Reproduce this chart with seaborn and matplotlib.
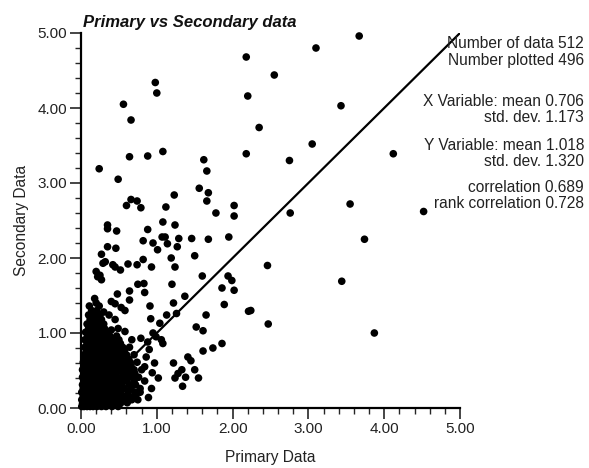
import matplotlib
matplotlib.use('Agg')
import matplotlib.pyplot as plt
import pandas as pd
import seaborn as sns
from matplotlib.ticker import MultipleLocator, FormatStrFormatter

# Sparse points above the cluster (primary, secondary)
upper_points = [
    (3.67, 4.96), (3.10, 4.80), (2.18, 4.68), (2.55, 4.44), (0.98, 4.34),
    (1.00, 4.20), (2.20, 4.16), (0.56, 4.05), (3.43, 4.03), (0.66, 3.84),
    (2.35, 3.74), (3.05, 3.52), (1.08, 3.42), (0.64, 3.35), (0.88, 3.36),
    (2.18, 3.39), (2.75, 3.30), (0.24, 3.19), (1.62, 3.31), (1.66, 3.16),
    (0.49, 3.05), (1.56, 2.93), (1.68, 2.87), (1.23, 2.84), (1.66, 2.76),
    (0.66, 2.78), (0.74, 2.76), (0.60, 2.70), (0.79, 2.67), (1.12, 2.68),
    (2.02, 2.70), (1.78, 2.60), (2.02, 2.56), (2.76, 2.60), (3.55, 2.72),
    (4.12, 3.39), (4.52, 2.62), (3.74, 2.25),
]

middle_points = [
    (0.35, 2.44), (0.35, 2.39), (0.47, 2.36), (0.88, 2.38), (1.08, 2.48),
    (1.24, 2.44), (0.82, 2.23), (0.95, 2.20), (1.07, 2.28), (1.11, 2.28),
    (1.14, 2.19), (1.29, 2.26), (1.46, 2.26), (1.68, 2.25), (1.95, 2.28),
    (1.01, 2.11), (1.27, 2.15), (0.35, 2.15), (0.46, 2.13), (0.27, 2.05),
    (0.82, 1.98), (1.19, 2.00), (1.50, 2.03), (0.29, 1.93), (0.32, 1.95),
    (0.42, 1.91), (0.45, 1.88), (0.52, 1.84), (0.62, 1.92), (0.74, 1.91),
    (0.93, 1.88), (1.24, 1.88), (0.20, 1.82), (0.25, 1.77), (0.22, 1.75),
    (0.27, 1.71), (0.75, 1.65), (0.83, 1.66), (1.20, 1.65), (1.60, 1.76),
    (0.64, 1.56), (0.84, 1.54), (0.48, 1.52), (1.37, 1.49), (0.18, 1.46),
    (0.20, 1.40), (0.40, 1.42), (0.45, 1.39), (0.64, 1.44), (0.91, 1.36),
    (1.22, 1.40), (0.53, 1.34), (0.58, 1.30), (0.30, 1.28), (0.37, 1.24),
    (1.13, 1.24), (1.26, 1.26), (1.65, 1.24), (0.92, 1.19), (1.04, 1.13),
    (1.52, 1.08), (1.61, 1.03), (0.40, 1.04), (0.58, 1.02), (0.79, 0.93),
    (0.67, 0.91), (0.95, 1.00), (0.99, 0.95), (1.06, 0.91), (1.08, 0.86),
]

right_points = [
    (2.46, 1.90), (3.44, 1.69), (2.24, 1.30), (2.47, 1.12), (3.87, 1.00),
    (1.94, 1.76), (1.99, 1.70), (1.86, 1.60), (2.02, 1.57), (1.89, 1.38),
    (2.21, 1.29), (1.74, 0.80), (1.86, 0.86), (1.61, 0.76), (0.86, 0.68),
    (1.22, 0.60), (1.41, 0.68), (1.45, 0.63), (1.50, 0.51), (1.55, 0.40),
    (1.33, 0.51), (1.28, 0.46), (1.24, 0.40), (1.38, 0.41), (1.34, 0.29),
    (0.80, 0.51), (1.02, 0.40), (0.93, 0.26), (0.89, 0.14), (0.75, 0.11),
    (0.61, 0.07), (0.84, 0.55), (0.90, 0.78), (0.97, 0.60), (0.84, 0.36),
    (0.78, 0.21), (0.94, 0.47), (0.88, 0.88),
]

# Dense cluster near the origin, one row per secondary value
cluster_bottom = [
    (0.02, [0.01, 0.04, 0.08, 0.12, 0.16, 0.21, 0.27, 0.33, 0.41, 0.49]),
    (0.06, [0.02, 0.06, 0.10, 0.15, 0.19, 0.24, 0.30, 0.38, 0.45, 0.52]),
    (0.11, [0.01, 0.05, 0.09, 0.13, 0.18, 0.23, 0.28, 0.35, 0.42, 0.50, 0.58, 0.67]),
    (0.16, [0.03, 0.07, 0.11, 0.16, 0.20, 0.26, 0.32, 0.39, 0.47, 0.55, 0.63, 0.72]),
    (0.21, [0.01, 0.05, 0.09, 0.14, 0.19, 0.24, 0.30, 0.37, 0.44, 0.52, 0.62, 0.71]),
    (0.26, [0.03, 0.08, 0.12, 0.17, 0.22, 0.28, 0.34, 0.41, 0.49, 0.57, 0.66, 0.78]),
    (0.31, [0.02, 0.06, 0.10, 0.15, 0.21, 0.26, 0.32, 0.39, 0.46, 0.54, 0.64, 0.72]),
    (0.36, [0.04, 0.08, 0.13, 0.18, 0.24, 0.30, 0.36, 0.43, 0.51, 0.60, 0.70]),
    (0.41, [0.02, 0.06, 0.11, 0.16, 0.22, 0.28, 0.35, 0.41, 0.48, 0.57, 0.67, 0.76]),
    (0.46, [0.04, 0.09, 0.14, 0.20, 0.26, 0.33, 0.39, 0.46, 0.55, 0.63, 0.71]),
]

cluster_middle = [
    (0.51, [0.02, 0.07, 0.12, 0.18, 0.24, 0.30, 0.37, 0.44, 0.52, 0.61, 0.70]),
    (0.56, [0.05, 0.10, 0.15, 0.21, 0.28, 0.34, 0.42, 0.50, 0.58, 0.66]),
    (0.61, [0.03, 0.08, 0.13, 0.19, 0.25, 0.32, 0.39, 0.47, 0.56, 0.65, 0.74]),
    (0.66, [0.06, 0.11, 0.17, 0.23, 0.30, 0.37, 0.45, 0.53, 0.62]),
    (0.71, [0.04, 0.09, 0.15, 0.21, 0.28, 0.35, 0.43, 0.51, 0.60, 0.70]),
    (0.76, [0.07, 0.12, 0.18, 0.25, 0.33, 0.41, 0.48, 0.57]),
    (0.81, [0.05, 0.10, 0.16, 0.23, 0.31, 0.38, 0.46, 0.55, 0.64]),
    (0.86, [0.08, 0.14, 0.20, 0.27, 0.36, 0.44, 0.52]),
]

cluster_top = [
    (0.91, [0.05, 0.11, 0.17, 0.25, 0.33, 0.41, 0.50]),
    (0.96, [0.09, 0.14, 0.21, 0.29, 0.38, 0.47]),
    (1.01, [0.06, 0.12, 0.19, 0.26, 0.35]),
    (1.06, [0.10, 0.17, 0.24, 0.31, 0.49]),
    (1.12, [0.08, 0.15, 0.22, 0.30]),
    (1.18, [0.12, 0.19, 0.27, 0.45]),
    (1.24, [0.10, 0.18, 0.25]),
    (1.30, [0.14, 0.21]),
    (1.36, [0.11, 0.24]),
]

stats_lines = [
    'Number of data 512',
    'Number plotted 496',
    'X Variable: mean 0.706',
    'std. dev. 1.173',
    'Y Variable: mean 1.018',
    'std. dev. 1.320',
    'correlation 0.689',
    'rank correlation 0.728',
]
stats_rows_px = [43, 61, 102, 118, 145, 161, 187, 203]

cluster_points = []
for rows in (cluster_bottom, cluster_middle, cluster_top):
    for yv, xs in rows:
        cluster_points += [(xv, yv) for xv in xs]

df = pd.DataFrame(upper_points + middle_points + right_points + cluster_points,
                  columns=['Primary', 'Secondary'])

sns.set_style('ticks')
plt.rcParams['font.family'] = ['Liberation Sans', 'DejaVu Sans']

W, H = 589, 468
fig = plt.figure(figsize=(W / 100, H / 100), dpi=100)
ax = fig.add_axes([81 / W, 1 - 408 / H, (460 - 81) / W, (408 - 33) / H])

sns.scatterplot(data=df, x='Primary', y='Secondary', ax=ax, color='black',
                s=30, edgecolor='none', linewidth=0, clip_on=False, zorder=3)
ax.plot([0, 5], [0, 5], color='black', lw=1.6, zorder=2)

ax.set_xlim(0, 5)
ax.set_ylim(0, 5)
ax.xaxis.set_major_locator(MultipleLocator(1))
ax.yaxis.set_major_locator(MultipleLocator(1))
ax.xaxis.set_minor_locator(MultipleLocator(0.2))
ax.yaxis.set_minor_locator(MultipleLocator(0.2))
ax.xaxis.set_major_formatter(FormatStrFormatter('%.2f'))
ax.yaxis.set_major_formatter(FormatStrFormatter('%.2f'))
ax.tick_params(which='major', direction='out', length=8, width=1.2,
               labelsize=11, labelcolor='#222222', pad=2)
ax.tick_params(which='minor', direction='out', length=4, width=1.0)

for side in ['top', 'right']:
    ax.spines[side].set_visible(False)
for side in ['left', 'bottom']:
    ax.spines[side].set_linewidth(1.6)
    ax.spines[side].set_color('black')

ax.set_xlabel('Primary Data', fontsize=11.2, color='#222222', labelpad=10)
ax.set_ylabel('Secondary Data', fontsize=11.2, color='#222222', labelpad=6)

fig.text(83 / W, 1 - 23 / H, 'Primary vs Secondary data', fontsize=12,
         fontweight='bold', fontstyle='italic', ha='left', va='center',
         color='#111111')

for line, ypx in zip(stats_lines, stats_rows_px):
    fig.text(584 / W, 1 - ypx / H, line, fontsize=11.2, ha='right',
             va='center', color='#222222')

fig.savefig('out.png', dpi=100)
